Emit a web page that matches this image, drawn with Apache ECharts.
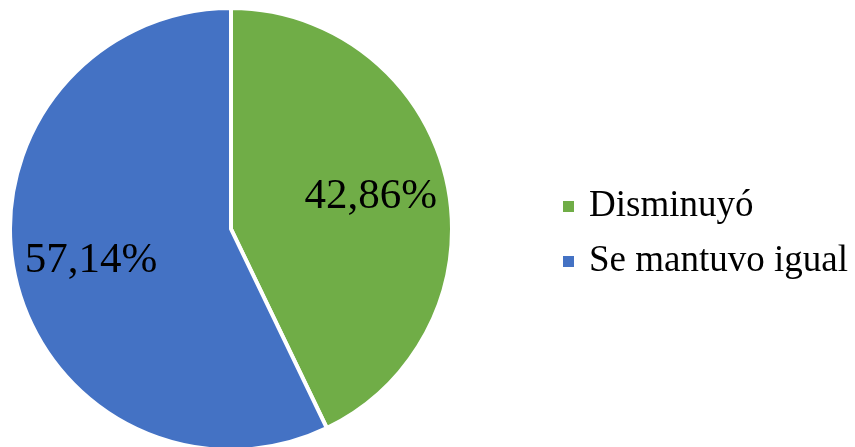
<!DOCTYPE html>
<html>
<head>
<meta charset="utf-8">
<script src="https://cdn.jsdelivr.net/npm/echarts@6/dist/echarts.min.js"></script>
<style>
  html, body { margin: 0; padding: 0; background: #fff; }
  #chart { width: 855px; height: 447px; }
</style>
</head>
<body>
<div id="chart"></div>
<script>
const categories = ['Disminuyó', 'Se mantuvo igual'];
const values = [42.86, 57.14];
const colors = ['#70AD47', '#4472C4'];

const chart = echarts.init(document.getElementById('chart'));
const pieData = categories.map((name, i) => ({
  name: name,
  value: values[i],
  itemStyle: { color: colors[i] }
}));
const fmt = p => p.value.toFixed(2).replace('.', ',') + '%';

chart.setOption({
  animation: false,
  legend: {
    orient: 'vertical',
    left: 556,
    top: 183,
    data: categories,
    icon: 'rect',
    itemWidth: 13,
    itemHeight: 13,
    itemGap: 18,
    textStyle: { fontFamily: 'Liberation Serif', fontSize: 37, color: '#000', padding: [0, 0, 0, 9] }
  },
  series: [
    {
      type: 'pie',
      center: [231, 229],
      radius: [0, 221],
      startAngle: 90,
      clockwise: true,
      data: pieData,
      itemStyle: { borderColor: '#fff', borderWidth: 4 },
      label: { show: false },
      labelLine: { show: false }
    },
    {
      // label-only layer so the labels sit farther out than mid-radius
      type: 'pie',
      silent: true,
      center: [231, 229],
      radius: [60, 221],
      startAngle: 90,
      clockwise: true,
      data: pieData.map(d => ({ name: d.name, value: d.value, itemStyle: { color: 'transparent' } })),
      label: {
        show: true,
        position: 'inside',
        formatter: fmt,
        fontFamily: 'Liberation Serif',
        fontSize: 43,
        color: '#000'
      },
      labelLine: { show: false }
    }
  ]
});
</script>
</body>
</html>
